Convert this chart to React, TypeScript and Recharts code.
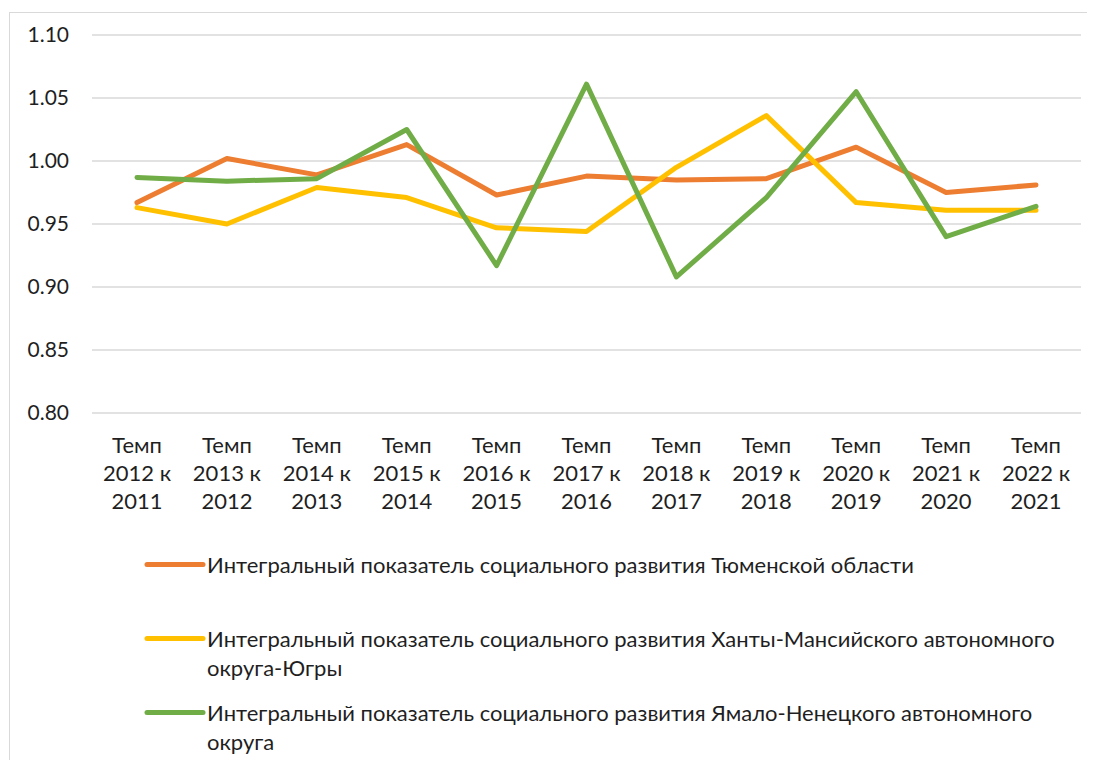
import React from "react";
import { LineChart, Line, XAxis, YAxis, CartesianGrid, Legend } from "recharts";

const categories = [
  "Темп 2012 к 2011", "Темп 2013 к 2012", "Темп 2014 к 2013", "Темп 2015 к 2014",
  "Темп 2016 к 2015", "Темп 2017 к 2016", "Темп 2018 к 2017", "Темп 2019 к 2018",
  "Темп 2020 к 2019", "Темп 2021 к 2020", "Темп 2022 к 2021",
];

const tyumen = [0.967, 1.002, 0.989, 1.013, 0.973, 0.988, 0.985, 0.986, 1.011, 0.975, 0.981];
const khmao = [0.963, 0.950, 0.979, 0.971, 0.947, 0.944, 0.995, 1.036, 0.967, 0.961, 0.961];
const yanao = [0.987, 0.984, 0.986, 1.025, 0.917, 1.061, 0.908, 0.971, 1.055, 0.940, 0.964];

const yTicks = [0.8, 0.85, 0.9, 0.95, 1.0, 1.05, 1.1];

const seriesNames = [
  "Интегральный показатель социального развития Тюменской области",
  "Интегральный показатель социального развития Ханты-Мансийского автономного округа-Югры",
  "Интегральный показатель социального развития Ямало-Ненецкого автономного округа",
];

const data = categories.map((c, i) => ({
  name: c,
  s1: tyumen[i],
  s2: khmao[i],
  s3: yanao[i],
}));

const font = "Lato, 'Open Sans', sans-serif";
const textColor = "#1f1f1f";

const XTick = ({ x, y, payload }: any) => {
  const parts = String(payload.value).split(" ");
  const lines = [parts[0], `${parts[1]} ${parts[2]}`, parts[3]];
  return (
    <text x={x} y={y} textAnchor="middle" fill={textColor} fontFamily={font} fontSize={22}>
      {lines.map((l, i) => (
        <tspan key={i} x={x} dy={i === 0 ? 40 : 28}>{l}</tspan>
      ))}
    </text>
  );
};

const renderLegend = ({ payload }: any) => (
  <div style={{ fontFamily: font, fontSize: 22, color: textColor }}>
    {(payload || []).map((e: any, i: number) => (
      <div key={i} style={{ display: "flex", alignItems: "flex-start", height: 74 }}>
        <svg width={63} height={29} style={{ flex: "none" }}>
          <line x1={3} x2={59} y1={14.5} y2={14.5} stroke={e.color} strokeWidth={5} strokeLinecap="round" />
        </svg>
        <span style={{ width: 862, lineHeight: "29px" }}>{e.value}</span>
      </div>
    ))}
  </div>
);

export default function App() {
  return (
    <div style={{ marginLeft: 1, marginTop: 4, width: 1200, height: 800, border: "1px solid #d9d9d9", background: "#fff" }}>
      <LineChart width={1090} height={750} data={data} margin={{ top: 22, right: 19, left: 0, bottom: 250 }}>
        <CartesianGrid vertical={false} stroke="#d9d9d9" strokeWidth={1.5} />
        <XAxis
          dataKey="name"
          axisLine={false}
          tickLine={false}
          tickSize={0}
          tickMargin={0}
          height={100}
          interval={0}
          padding={{ left: 45, right: 45 }}
          tick={<XTick />}
        />
        <YAxis
          domain={[0.8, 1.1]}
          ticks={yTicks}
          axisLine={false}
          tickLine={false}
          tickSize={0}
          tickMargin={23}
          width={82}
          tickFormatter={(v: number) => v.toFixed(2)}
          tick={{ fill: textColor, fontFamily: font, fontSize: 21 }}
        />
        <Legend
          layout="vertical"
          align="center"
          verticalAlign="middle"
          wrapperStyle={{ left: 134, top: 537, width: 950 }}
          content={renderLegend}
        />
        <Line dataKey="s1" name={seriesNames[0]} stroke="#ED7D31" strokeWidth={5} dot={false} strokeLinejoin="round" strokeLinecap="round" isAnimationActive={false} />
        <Line dataKey="s2" name={seriesNames[1]} stroke="#FFC000" strokeWidth={5} dot={false} strokeLinejoin="round" strokeLinecap="round" isAnimationActive={false} />
        <Line dataKey="s3" name={seriesNames[2]} stroke="#70AD47" strokeWidth={5} dot={false} strokeLinejoin="round" strokeLinecap="round" isAnimationActive={false} />
      </LineChart>
    </div>
  );
}
